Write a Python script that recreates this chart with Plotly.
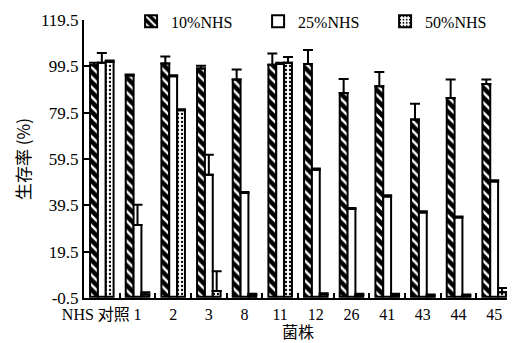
import plotly.graph_objects as go

categories = ["NHS 对照", "1", "2", "3", "8", "11", "12", "26", "41", "43", "44", "45"]
series_names = ["10%NHS", "25%NHS", "50%NHS"]
v10 = [100.0, 95.5, 100.7, 98.6, 93.8, 100.2, 100.5, 88.0, 90.9, 76.5, 85.8, 91.9]
e10 = [1.0, 0.5, 3.0, 1.2, 4.3, 4.8, 6.0, 6.0, 6.2, 6.9, 8.0, 1.9]
v25 = [101.0, 31.0, 95.2, 52.7, 44.8, 100.5, 54.9, 37.9, 43.3, 36.4, 34.2, 49.8]
e25 = [4.3, 8.7, 0.5, 8.6, 0.5, 0.5, 0.5, 0.5, 0.5, 0.5, 0.5, 0.5]
v50 = [101.5, 1.0, 80.5, 2.5, 0.8, 101.0, 1.0, 0.8, 0.8, 0.5, 0.5, 2.0]
e50 = [0.5, 1.0, 0.5, 8.5, 0.5, 2.5, 0.5, 0.5, 0.5, 0.5, 0.5, 1.8]
ytick_vals = [-0.5, 19.5, 39.5, 59.5, 79.5, 99.5, 119.5]

serif = "Liberation Serif, Times New Roman, serif"
cjk = "Noto Sans CJK SC, sans-serif"

# first label shifted left as in the reference (padding with no-break spaces)
tick_text = [categories[0] + "\u00a0" * 3] + categories[1:]

def err(vals):
    return dict(type="data", symmetric=False, array=vals, arrayminus=[0] * len(vals),
                color="black", thickness=2, width=5)

fig = go.Figure()
fig.add_trace(go.Bar(
    x=categories, y=v10, name=series_names[0], error_y=err(e10),
    marker=dict(color="black", line=dict(color="black", width=2),
                pattern=dict(shape="\\", bgcolor="black", fgcolor="white",
                             size=7, solidity=0.35, fillmode="replace")),
))
fig.add_trace(go.Bar(
    x=categories, y=v25, name=series_names[1], error_y=err(e25),
    marker=dict(color="white", line=dict(color="black", width=2)),
))
fig.add_trace(go.Bar(
    x=categories, y=v50, name=series_names[2], error_y=err(e50),
    marker=dict(color="white", line=dict(color="black", width=2),
                pattern=dict(shape=".", bgcolor="white", fgcolor="black",
                             size=4, solidity=0.25, fillmode="replace")),
))

# page body has an 8px default margin, so the figure is sized 8px smaller
fig.update_layout(
    width=507, height=335,
    margin=dict(l=76, r=3, t=12, b=45, autoexpand=False),
    paper_bgcolor="white", plot_bgcolor="white",
    barmode="group", bargap=0.34, bargroupgap=0,
    font=dict(family=serif, size=17, color="black"),
    legend=dict(orientation="h", x=0.11, y=0.995, xanchor="left", yanchor="middle",
                bgcolor="rgba(255,255,255,0)", font=dict(family=serif, size=16),
                entrywidth=82, entrywidthmode="pixels", itemwidth=30,
                traceorder="normal"),
    showlegend=True,
)
fig.update_yaxes(
    range=[-0.5, 119.5], tickvals=ytick_vals, ticktext=[str(v) for v in ytick_vals],
    ticks="inside", ticklen=6, tickwidth=2, tickcolor="black",
    showline=True, linecolor="black", linewidth=2, showgrid=False, zeroline=False,
    tickfont=dict(family=serif, size=17), automargin=False,
    title=dict(text="生存率 (%)", font=dict(family=cjk, size=17), standoff=6),
)
fig.update_xaxes(
    type="category", categoryorder="array", categoryarray=categories,
    tickmode="array", tickvals=categories, ticktext=tick_text,
    ticks="inside", ticklen=5, tickwidth=2, tickcolor="black", tickson="boundaries",
    tickangle=0, automargin=False, ticklabelstandoff=1,
    showline=True, linecolor="black", linewidth=2, showgrid=False,
    tickfont=dict(family=serif + ", Noto Sans CJK SC", size=16),
    title=dict(text="菌株", font=dict(family=cjk, size=16), standoff=0),
)

fig.write_html("out.html")
